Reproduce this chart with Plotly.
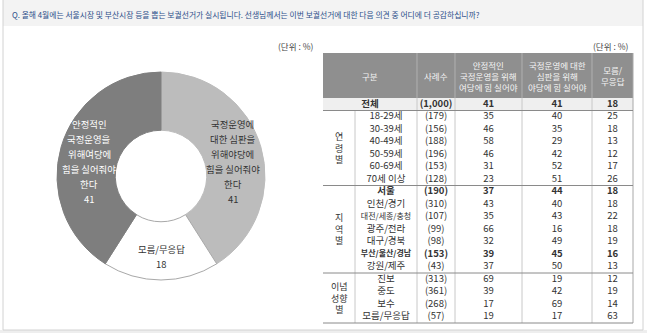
import math
import plotly.graph_objects as go

# ---------------- data ----------------
question = "Q. 올해 4월에는 서울시장 및 부산시장 등을 뽑는 보궐선거가 실시됩니다. 선생님께서는 이번 보궐선거에 대한 다음 의견 중 어디에 더 공감하십니까?"
unit_label = "(단위 : %)"

pie_labels = ["국정운영에 대한 심판을 위해 야당에 힘을 실어줘야 한다", "모름/무응답", "안정적인 국정운영을 위해 여당에 힘을 실어줘야 한다"]
pie_text_lines = [["국정운영에", "대한 심판을", "위해야당에", "힘을 실어줘야", "한다"],
                  ["모름/무응답"],
                  ["안정적인", "국정운영을", "위해여당에", "힘을 실어줘야", "한다"]]
pie_values = [41, 18, 41]
pie_colors = ["#bcbcbc", "#ffffff", "#7e7e7e"]
pie_line_colors = ["#bcbcbc", "#a8a8a8", "#7e7e7e"]
pie_text_colors = ["#333333", "#333333", "#ffffff"]

header_cols = ["구분", "사례수", "안정적인<br>국정운영을 위해<br>여당에 힘 실어야",
               "국정운영에 대한<br>심판을 위해<br>야당에 힘 실어야", "모름/<br>무응답"]
row_items = ["전체", "18-29세", "30-39세", "40-49세", "50-59세", "60-69세", "70세 이상",
             "서울", "인천/경기", "대전/세종/충청", "광주/전라", "대구/경북", "부산/울산/경남", "강원/제주",
             "진보", "중도", "보수", "모름/무응답"]
row_n = ["(1,000)", "(179)", "(156)", "(188)", "(196)", "(153)", "(128)",
         "(190)", "(310)", "(107)", "(99)", "(98)", "(153)", "(43)",
         "(313)", "(361)", "(268)", "(57)"]
col_stable = [41, 35, 46, 58, 46, 31, 23, 37, 43, 35, 66, 32, 39, 37, 69, 39, 17, 19]
col_judge = [41, 40, 35, 29, 42, 52, 51, 44, 40, 43, 16, 49, 45, 50, 19, 42, 69, 17]
col_dk = [18, 25, 18, 13, 12, 17, 26, 18, 18, 22, 18, 19, 16, 13, 12, 19, 14, 63]
groups = [("연<br>령<br>별", 1, 7), ("지<br>역<br>별", 7, 14), ("이념<br>성향<br>별", 14, 18)]
bold_rows = [0, 7, 12]

# ---------------- layout constants ----------------
W, H = 647, 333
FONT = "Noto Sans CJK KR"
cx, cy, R = 161, 176, 104
HOLE = 0.44

tx0, tx_grp, tx_item, tx1 = 323, 355, 417, 633
col_edges = [323, 417, 455, 522, 592, 633]
head_top, head_bot = 53, 98
row_h = 12.5

fig = go.Figure()

# donut
fig.add_trace(go.Pie(
    labels=pie_labels, values=pie_values, sort=False, direction="clockwise", rotation=0,
    hole=HOLE, textinfo="none", hoverinfo="skip",
    marker=dict(colors=pie_colors, line=dict(color=pie_line_colors, width=1)),
    domain=dict(x=[(cx - R) / W, (cx + R) / W], y=[1 - (cy + R) / H, 1 - (cy - R) / H]),
    showlegend=False,
))

shapes = []
annotations = []

# donut labels (computed from slice mid-angles)
total = sum(pie_values)
cum = 0
r_lab = R * (1 + HOLE) / 2
for i, v in enumerate(pie_values):
    mid = (cum + v / 2) / total * 2 * math.pi
    cum += v
    lx = cx + r_lab * math.sin(mid)
    ly = cy - r_lab * math.cos(mid) + 6
    lines = pie_text_lines[i] + [str(v)]
    n = len(lines)
    spacing = 15
    for k, t in enumerate(lines):
        annotations.append(dict(x=lx, y=ly + (k - (n - 1) / 2) * spacing, xref="x", yref="y", text=t,
                                showarrow=False, font=dict(family=FONT, size=9.4, color=pie_text_colors[i])))

# table text
centers = [(col_edges[i] + col_edges[i + 1]) / 2 for i in range(len(col_edges) - 1)]
row_y = [head_bot + row_h * (i + 0.5) for i in range(len(row_items))]

def b(t, i):
    return f"<b>{t}</b>" if i in bold_rows else str(t)

item_x = [(tx0 + tx_item) / 2] + [(tx_grp + tx_item) / 2] * (len(row_items) - 1)
item_sizes = [9.5 if len(t) < 7 else 8 for t in row_items]
fig.add_trace(go.Scatter(x=item_x, y=row_y, text=[b(t, i) for i, t in enumerate(row_items)], mode="text",
                         textfont=dict(family=FONT, size=item_sizes, color="#333333"),
                         hoverinfo="skip", showlegend=False))
for cx_i, col in zip(centers[1:], [row_n, col_stable, col_judge, col_dk]):
    fig.add_trace(go.Scatter(x=[cx_i] * len(col), y=row_y, text=[b(t, i) for i, t in enumerate(col)],
                             mode="text", textfont=dict(family=FONT, size=9.5, color="#333333"),
                             hoverinfo="skip", showlegend=False))

# outer panel
shapes.append(dict(type="rect", x0=0, x1=W, y0=330, y1=H, fillcolor="#eeeeee", line_width=0, layer="below"))
shapes.append(dict(type="rect", x0=3, x1=643, y0=0, y1=26, fillcolor="#f3f3f3", line_width=0, layer="below"))
shapes.append(dict(type="rect", x0=3, x1=643, y0=-1, y1=330, line=dict(color="#d2d2d2", width=1), layer="below"))

# table backgrounds
shapes.append(dict(type="rect", x0=tx0, x1=tx1, y0=head_top, y1=head_bot, fillcolor="#8f8f8f", line_width=0, layer="below"))
shapes.append(dict(type="rect", x0=tx0, x1=tx1, y0=head_bot, y1=head_bot + row_h, fillcolor="#efefef", line_width=0, layer="below"))

table_bot = head_bot + row_h * len(row_items)
for xe in col_edges[1:-1]:
    shapes.append(dict(type="line", x0=xe, x1=xe, y0=head_top, y1=head_bot, line=dict(color="#b0b0b0", width=1)))
    shapes.append(dict(type="line", x0=xe, x1=xe, y0=head_bot, y1=table_bot, line=dict(color="#c8c8c8", width=1)))
shapes.append(dict(type="line", x0=tx_grp, x1=tx_grp, y0=head_bot + row_h, y1=table_bot, line=dict(color="#c8c8c8", width=1)))
shapes.append(dict(type="line", x0=tx1, x1=tx1, y0=head_top, y1=table_bot, line=dict(color="#a8a8a8", width=1)))
for yy in [head_bot + row_h] + [head_bot + row_h * g[1] for g in groups[1:]] + [table_bot]:
    shapes.append(dict(type="line", x0=tx0, x1=tx1, y0=yy, y1=yy, line=dict(color="#8a8a8a", width=1)))

for c, t in zip(centers, header_cols):
    annotations.append(dict(x=c, y=(head_top + head_bot) / 2, xref="x", yref="y", text=t, showarrow=False,
                            font=dict(family=FONT, size=8.5, color="#f4f4f4"), align="center"))
for t, r0, r1 in groups:
    annotations.append(dict(x=(tx0 + tx_grp) / 2, y=head_bot + row_h * (r0 + r1) / 2, xref="x", yref="y",
                            text=t, showarrow=False, font=dict(family=FONT, size=9, color="#333333"), align="center"))

annotations.append(dict(x=10, y=14, xref="x", yref="y", text=question, showarrow=False, xanchor="left",
                        font=dict(family=FONT, size=7.8, color="#2d4f8a")))
annotations.append(dict(x=316, y=46, xref="x", yref="y", text=unit_label, showarrow=False, xanchor="right",
                        font=dict(family=FONT, size=8.5, color="#444444")))
annotations.append(dict(x=631, y=46, xref="x", yref="y", text=unit_label, showarrow=False, xanchor="right",
                        font=dict(family=FONT, size=8.5, color="#444444")))

fig.update_layout(
    width=W, height=H, margin=dict(l=0, r=0, t=0, b=0),
    paper_bgcolor="#ffffff", plot_bgcolor="rgba(0,0,0,0)",
    xaxis=dict(range=[0, W], visible=False, fixedrange=True, domain=[0, 1]),
    yaxis=dict(range=[H, 0], visible=False, fixedrange=True, domain=[0, 1]),
    shapes=shapes, annotations=annotations, showlegend=False,
)
fig.write_html("out.html")
